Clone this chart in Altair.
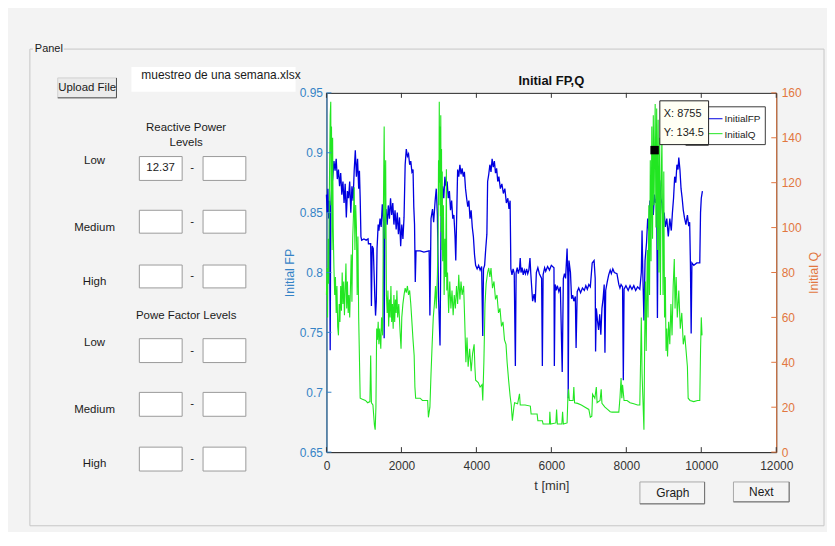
import altair as alt
import pandas as pd

# ---------------- data ----------------
# Initial FP (left axis), pairs of (t [min], FP)
fp_points = [
    (0, 0.865), (20, 0.850), (40, 0.870), (60, 0.845), (80, 0.860), (100, 0.735), (115, 0.855),
    (140, 0.870), (170, 0.880), (200, 0.893), (230, 0.885), (260, 0.895), (290, 0.878), (320, 0.886),
    (350, 0.872), (380, 0.883), (410, 0.865), (440, 0.876), (470, 0.858), (500, 0.874), (530, 0.846),
    (560, 0.868), (590, 0.862), (620, 0.876), (650, 0.850), (680, 0.872), (710, 0.860), (740, 0.885),
    (770, 0.902), (800, 0.880), (830, 0.895), (860, 0.870), (880, 0.885), (900, 0.862), (920, 0.830),
    (940, 0.827), (1000, 0.828), (1060, 0.827), (1110, 0.828), (1120, 0.824), (1180, 0.824),
    (1200, 0.772), (1220, 0.822), (1250, 0.820), (1270, 0.800), (1290, 0.780), (1310, 0.764),
    (1330, 0.776), (1350, 0.820), (1380, 0.840), (1400, 0.835), (1430, 0.845), (1460, 0.838),
    (1490, 0.857), (1520, 0.842), (1540, 0.745), (1560, 0.845), (1590, 0.853), (1620, 0.840),
    (1650, 0.856), (1680, 0.845), (1710, 0.862), (1740, 0.848), (1770, 0.858), (1800, 0.840),
    (1830, 0.852), (1860, 0.836), (1890, 0.850), (1920, 0.832), (1950, 0.846), (1980, 0.822),
    (2010, 0.840), (2040, 0.828), (2070, 0.846), (2100, 0.890), (2130, 0.903), (2160, 0.897),
    (2190, 0.899), (2220, 0.890), (2250, 0.893), (2280, 0.884), (2310, 0.886), (2330, 0.855),
    (2350, 0.840), (2370, 0.792), (2390, 0.818), (2500, 0.818), (2600, 0.817), (2740, 0.818),
    (2760, 0.764), (2790, 0.845), (2830, 0.853), (2860, 0.842), (2900, 0.860), (2930, 0.870),
    (2960, 0.848), (2990, 0.780), (3030, 0.739), (3060, 0.850), (3100, 0.872), (3130, 0.862),
    (3160, 0.880), (3190, 0.872), (3220, 0.876), (3250, 0.862), (3280, 0.868), (3310, 0.852),
    (3340, 0.860), (3370, 0.845), (3400, 0.848), (3430, 0.830), (3450, 0.810), (3470, 0.840),
    (3500, 0.886), (3530, 0.880), (3560, 0.890), (3590, 0.882), (3620, 0.887), (3650, 0.880),
    (3680, 0.884), (3710, 0.870), (3740, 0.862), (3770, 0.855), (3800, 0.860), (3830, 0.845),
    (3860, 0.852), (3890, 0.838), (3920, 0.830), (3950, 0.815), (3980, 0.806), (4020, 0.803),
    (4060, 0.806), (4100, 0.802), (4140, 0.805), (4170, 0.747), (4190, 0.803), (4220, 0.806),
    (4250, 0.820), (4280, 0.832), (4300, 0.876), (4330, 0.882), (4360, 0.890), (4390, 0.884),
    (4420, 0.895), (4450, 0.888), (4480, 0.893), (4510, 0.883), (4540, 0.887), (4570, 0.876),
    (4600, 0.880), (4640, 0.870), (4680, 0.874), (4720, 0.866), (4760, 0.870), (4800, 0.858),
    (4840, 0.862), (4870, 0.853), (4900, 0.860), (4920, 0.803), (4950, 0.798), (4980, 0.803),
    (5010, 0.799), (5040, 0.722), (5060, 0.800), (5090, 0.804), (5120, 0.799), (5150, 0.803),
    (5170, 0.812), (5190, 0.800), (5220, 0.804), (5250, 0.798), (5280, 0.802), (5310, 0.799),
    (5340, 0.803), (5370, 0.799), (5400, 0.802), (5430, 0.812), (5450, 0.800), (5500, 0.776),
    (5540, 0.782), (5570, 0.775), (5600, 0.800), (5640, 0.804), (5680, 0.799), (5740, 0.795),
    (5760, 0.722), (5780, 0.798), (5820, 0.804), (5850, 0.801), (5900, 0.805), (5950, 0.802),
    (6000, 0.806), (6070, 0.804), (6080, 0.722), (6100, 0.790), (6130, 0.785), (6160, 0.789),
    (6200, 0.784), (6240, 0.788), (6290, 0.717), (6320, 0.795), (6350, 0.799), (6380, 0.795),
    (6420, 0.820), (6440, 0.797), (6450, 0.695), (6470, 0.810), (6510, 0.800), (6540, 0.778),
    (6570, 0.781), (6600, 0.776), (6640, 0.780), (6660, 0.737), (6690, 0.784), (6730, 0.787),
    (6780, 0.783), (6830, 0.787), (6880, 0.785), (6920, 0.789), (6960, 0.786), (7000, 0.790),
    (7040, 0.788), (7090, 0.808), (7140, 0.810), (7170, 0.795), (7180, 0.734), (7200, 0.770),
    (7230, 0.760), (7260, 0.752), (7290, 0.765), (7320, 0.748), (7350, 0.770), (7380, 0.778),
    (7410, 0.790), (7430, 0.733), (7450, 0.785), (7490, 0.792), (7530, 0.798), (7570, 0.802),
    (7600, 0.799), (7640, 0.803), (7680, 0.800), (7750, 0.799), (7800, 0.790), (7830, 0.787),
    (7860, 0.790), (7900, 0.788), (7920, 0.710), (7940, 0.786), (7990, 0.789), (8050, 0.785),
    (8100, 0.789), (8150, 0.786), (8200, 0.789), (8250, 0.785), (8300, 0.788), (8360, 0.786),
    (8400, 0.800), (8420, 0.835), (8440, 0.800), (8470, 0.760), (8500, 0.810), (8540, 0.825),
    (8570, 0.845), (8600, 0.835), (8630, 0.860), (8660, 0.852), (8690, 0.870), (8720, 0.848),
    (8750, 0.865), (8780, 0.858), (8810, 0.862), (8830, 0.762), (8850, 0.848), (8870, 0.872),
    (8890, 0.877), (8920, 0.862), (8950, 0.858), (8980, 0.843), (9010, 0.850), (9040, 0.838),
    (9080, 0.845), (9120, 0.830), (9160, 0.845), (9200, 0.835), (9230, 0.850), (9260, 0.862),
    (9290, 0.880), (9320, 0.875), (9350, 0.890), (9380, 0.886), (9400, 0.896), (9430, 0.886),
    (9460, 0.870), (9490, 0.862), (9520, 0.852), (9550, 0.846), (9590, 0.840), (9630, 0.848),
    (9660, 0.840), (9690, 0.842), (9710, 0.808), (9730, 0.749), (9750, 0.808), (9800, 0.806),
    (9880, 0.808), (9960, 0.808), (9980, 0.850), (10000, 0.862), (10030, 0.868),
]

# Initial Q (right axis), pairs of (t [min], Q)
q_points = [
    (0, 70), (15, 82), (30, 60), (45, 95), (60, 75), (80, 120), (100, 150), (115, 156), (125, 110),
    (135, 145), (150, 90), (165, 140), (180, 100), (200, 82), (220, 70), (240, 78), (260, 62),
    (280, 74), (300, 56), (320, 52), (340, 66), (360, 58), (380, 74), (400, 63), (420, 80),
    (440, 66), (460, 76), (480, 61), (500, 72), (520, 84), (540, 64), (560, 76), (580, 62),
    (600, 70), (620, 60), (640, 73), (660, 88), (680, 67), (700, 95), (720, 105), (740, 118),
    (760, 90), (780, 110), (800, 100), (820, 70), (840, 96), (860, 60), (880, 42), (900, 24),
    (960, 23.5), (1040, 23), (1100, 22), (1160, 22.5), (1180, 43), (1200, 22), (1240, 21),
    (1280, 12), (1300, 10), (1320, 20), (1340, 55), (1360, 50), (1380, 58), (1400, 48),
    (1420, 55), (1450, 46), (1470, 60), (1500, 52), (1520, 110), (1540, 145), (1560, 95),
    (1580, 130), (1600, 70), (1620, 62), (1640, 72), (1660, 56), (1680, 68), (1700, 60),
    (1720, 74), (1740, 58), (1760, 66), (1780, 55), (1800, 70), (1820, 58), (1840, 68),
    (1860, 62), (1880, 72), (1900, 60), (1930, 66), (1960, 55), (1990, 46), (2010, 60),
    (2040, 66), (2070, 70), (2100, 73), (2130, 71), (2160, 74), (2190, 70), (2220, 72),
    (2250, 66), (2280, 58), (2310, 50), (2340, 43), (2360, 29), (2380, 24), (2500, 24),
    (2560, 23), (2700, 23), (2720, 15.5), (2760, 20), (2790, 35), (2820, 48), (2850, 60),
    (2880, 66), (2910, 74), (2930, 64), (2960, 79), (2980, 100), (2990, 130), (3000, 110),
    (3010, 156), (3020, 120), (3030, 145), (3040, 105), (3050, 150), (3060, 98), (3070, 135),
    (3080, 90), (3090, 125), (3100, 85), (3120, 110), (3140, 70), (3160, 95), (3180, 78),
    (3200, 126), (3210, 72), (3230, 80), (3260, 62), (3290, 76), (3320, 64), (3350, 72),
    (3380, 61), (3410, 70), (3440, 64), (3470, 74), (3500, 66), (3530, 79), (3560, 68),
    (3590, 76), (3620, 70), (3660, 74), (3690, 58), (3720, 40), (3750, 51), (3780, 38),
    (3820, 46), (3860, 36), (3900, 44), (3940, 48), (3960, 38), (3980, 32), (4050, 31),
    (4100, 29), (4150, 30), (4170, 23), (4200, 40), (4230, 66), (4260, 75), (4300, 80),
    (4330, 82), (4360, 78), (4390, 82), (4430, 73), (4470, 76), (4510, 68), (4550, 70),
    (4590, 62), (4630, 64), (4670, 56), (4710, 58), (4750, 50), (4790, 48), (4820, 40),
    (4860, 32), (4900, 25), (4930, 21), (4960, 14), (5000, 20), (5020, 22), (5100, 21.5),
    (5150, 26), (5170, 21), (5300, 21), (5440, 20.5), (5460, 17), (5620, 17), (5640, 14),
    (5760, 14), (5780, 12.5), (5950, 12.5), (5960, 18), (5980, 12.5), (6120, 13), (6140, 19),
    (6160, 12.5), (6280, 12.5), (6300, 18), (6320, 12.5), (6420, 13), (6440, 24), (6460, 28),
    (6480, 23), (6580, 23), (6600, 29), (6620, 22), (6700, 21.7), (6800, 21), (6900, 20),
    (7000, 19), (7040, 15.5), (7080, 16), (7100, 25.8), (7160, 24), (7200, 29), (7220, 22),
    (7300, 23), (7330, 28), (7350, 21.7), (7430, 20), (7500, 19), (7570, 18), (7620, 17.8),
    (7800, 17.8), (7830, 24), (7860, 33), (7880, 24), (7900, 30), (7940, 23), (8020, 23),
    (8100, 22), (8200, 21.5), (8300, 21), (8360, 21), (8380, 40), (8400, 60), (8420, 35),
    (8450, 20), (8470, 10), (8490, 50), (8510, 76), (8530, 45), (8560, 90), (8580, 60),
    (8600, 110), (8620, 70), (8640, 130), (8660, 85), (8680, 145), (8700, 95), (8720, 150),
    (8740, 110), (8755, 134.5), (8770, 155), (8790, 100), (8810, 153), (8830, 90), (8850, 148),
    (8870, 80), (8890, 140), (8910, 70), (8930, 120), (8950, 140), (8980, 70), (9000, 125),
    (9020, 60), (9040, 78), (9060, 45), (9080, 55), (9100, 42.6), (9130, 58), (9160, 48),
    (9190, 66), (9220, 52), (9250, 74), (9280, 86), (9300, 64), (9330, 78), (9360, 60),
    (9400, 72), (9440, 55), (9480, 62), (9520, 48), (9560, 52), (9600, 44), (9630, 38),
    (9650, 24), (9700, 23), (9800, 22.5), (9900, 23), (9960, 23), (9980, 45), (10000, 60),
    (10020, 52),
]

x_ticks = [0, 2000, 4000, 6000, 8000, 10000, 12000]
fp_ticks = [0.65, 0.7, 0.75, 0.8, 0.85, 0.9, 0.95]
q_ticks = [0, 20, 40, 60, 80, 100, 120, 140, 160]
series_names = ["InitialFP", "InitialQ"]
tip_t = [8755]
tip_q = [134.5]

# ---------------- styling / layout ----------------
W, H = 452, 361          # plot area
OX, OY = 328, 92         # page position of the plot origin (8px margin + padding)
BG = "#f3f3f3"
FONT = "Liberation Sans, Arial, Helvetica, sans-serif"
FP_COLOR = "#0000e0"
Q_COLOR = "#22e622"
LEFT = "#3583c6"
RIGHT = "#e2773f"
DARK = "#333333"

fp_df = pd.DataFrame(fp_points, columns=["t", "fp"])
fp_df["i"] = range(len(fp_df))
q_df = pd.DataFrame(q_points, columns=["t", "q"])
q_df["i"] = range(len(q_df))
xt_df = pd.DataFrame({"t": x_ticks})
fpt_df = pd.DataFrame({"fp": fp_ticks})
qt_df = pd.DataFrame({"q": q_ticks})
tip_df = pd.DataFrame({"t": tip_t, "q": tip_q})
one = pd.DataFrame({"k": [0]})

xscale = alt.Scale(domain=[0, 12000], nice=False, zero=False)
fpscale = alt.Scale(domain=[0.65, 0.95], nice=False, zero=False)
qscale = alt.Scale(domain=[0, 160], nice=False, zero=False)

X_AXIS = alt.Axis(
    orient="bottom", values=x_ticks, format="d", title="t [min]",
    labelPadding=8, titlePadding=9, labelFlush=False,
    domainColor=DARK, labelColor=DARK, titleColor=DARK,
)


def X():
    return alt.X("t:Q", scale=xscale, axis=X_AXIS)


def txt(s, x, y, size=11.5, align="center", weight="normal", color="#1a1a1a"):
    return alt.Chart(one).mark_text(
        text=s, fontSize=size, align=align, baseline="middle",
        fontWeight=weight, color=color, font=FONT,
    ).encode(x=alt.value(x - OX), y=alt.value(y - OY))


def box(x1, y1, x2, y2, fill, stroke=None, sw=1, fill_opacity=1):
    kw = dict(fill=fill, fillOpacity=fill_opacity)
    if stroke is not None:
        kw.update(stroke=stroke, strokeWidth=sw)
    return alt.Chart(one).mark_rect(**kw).encode(
        x=alt.value(x1 - OX), x2=alt.value(x2 - OX),
        y=alt.value(y1 - OY), y2=alt.value(y2 - OY),
    )


def line(x1, y1, x2, y2, color, sw=1):
    return alt.Chart(one).mark_rule(color=color, strokeWidth=sw).encode(
        x=alt.value(x1 - OX), x2=alt.value(x2 - OX),
        y=alt.value(y1 - OY), y2=alt.value(y2 - OY),
    )


layers = []

# --- GUI panel (decoration) ---
layers += [
    box(30, 48, 828, 527, BG, stroke="#c6c6c6", fill_opacity=0),
    box(33, 42, 64, 55, BG),
    txt("Panel", 35, 48, size=11, align="left"),
    box(58, 77, 117, 97, "#ebebeb", stroke="#cfcfcf"),
    line(58, 97, 117, 97, "#505050"),
    line(117, 77, 117, 97, "#505050"),
    txt("Upload File", 87.5, 87, size=11.5),
    box(132, 66, 297, 91, "#ffffff"),
    txt("muestreo de una semana.xlsx", 142, 74, size=12, align="left"),
    txt("Reactive Power", 187, 127),
    txt("Levels", 187, 142),
    txt("Powe Factor Levels", 187, 316),
]
rows = [("Low", 160, 156, 180), ("Medium", 228, 210, 233), ("High", 282, 265, 288),
        ("Low", 343, 339, 363), ("Medium", 411, 393, 417), ("High", 465, 448, 472)]
for name, ly, by1, by2 in rows:
    layers += [
        txt(name, 95, ly),
        box(140, by1, 183, by2, "#ffffff", stroke="#9a9a9a"),
        box(204, by1, 247, by2, "#ffffff", stroke="#9a9a9a"),
        txt("-", 193, (by1 + by2) / 2),
    ]
layers += [
    txt("12.37", 147, 168, align="left"),
    box(643, 483, 708, 505, "#f4f4f4", stroke="#a8a8a8"),
    line(643, 505, 708, 505, "#707070"),
    line(708, 483, 708, 505, "#707070"),
    txt("Graph", 676, 494, size=12),
    box(737, 483, 793, 503, "#f4f4f4", stroke="#a8a8a8"),
    line(737, 503, 793, 503, "#707070"),
    line(793, 483, 793, 503, "#707070"),
    txt("Next", 765, 493, size=12),
]

# --- the plot ---
blue = alt.Chart(fp_df).mark_line(color=FP_COLOR, strokeWidth=1.3).encode(
    x=X(),
    y=alt.Y("fp:Q", scale=fpscale, axis=alt.Axis(
        orient="left", values=fp_ticks, format="~g", title="Initial FP",
        labelPadding=4, titlePadding=3, titleFontSize=12.5,
        domainColor=LEFT, labelColor=LEFT, titleColor=LEFT)),
    order=alt.Order("i:Q"),
)
green = alt.Chart(q_df).mark_line(color=Q_COLOR, strokeWidth=1.1).encode(
    x=X(),
    y=alt.Y("q:Q", scale=qscale, axis=alt.Axis(
        orient="right", values=q_ticks, format="d", title="Initial Q",
        labelPadding=5, titlePadding=6, titleAngle=270, titleBaseline="top",
        titleFontSize=12.5,
        domainColor=RIGHT, labelColor=RIGHT, titleColor=RIGHT)),
    order=alt.Order("i:Q"),
)
layers += [blue, green]

# inward tick marks (MATLAB style)
layers += [
    alt.Chart(xt_df).mark_rule(color=DARK).encode(
        x=X(), y=alt.value(H - 5), y2=alt.value(H)),
    alt.Chart(xt_df).mark_rule(color=DARK).encode(
        x=X(), y=alt.value(0), y2=alt.value(5)),
    alt.Chart(fpt_df).mark_rule(color=LEFT).encode(
        y=alt.Y("fp:Q", scale=fpscale, axis=None), x=alt.value(0), x2=alt.value(5)),
    alt.Chart(qt_df).mark_rule(color=RIGHT).encode(
        y=alt.Y("q:Q", scale=qscale, axis=None), x=alt.value(W - 5), x2=alt.value(W)),
]

# title
layers.append(txt("Initial FP,Q", OX + W / 2, 80, size=13, weight="bold", color="#111111"))

# legend
layers += [
    box(688, 106, 769, 144, "#ffffff", stroke="#3a3a3a"),
    line(698, 118, 726, 118, FP_COLOR),
    line(698, 133, 726, 133, Q_COLOR),
    txt(series_names[0], 728, 118, size=10, align="left"),
    txt(series_names[1], 728, 134, size=10, align="left"),
]

# data tip
layers += [
    box(689, 140, 712, 145, "#111111"),
    box(663, 100, 712, 144, "#fffff4", stroke="#222222"),
    txt("X: " + str(tip_t[0]), 667, 113, size=11, align="left"),
    txt("Y: " + str(tip_q[0]), 667, 132, size=11, align="left"),
    alt.Chart(tip_df).mark_square(size=72, color="black", filled=True, opacity=1).encode(
        x=X(),
        y=alt.Y("q:Q", scale=qscale, axis=None)),
]

chart = (
    alt.layer(*layers)
    .resolve_scale(y="independent")
    .properties(
        width=W, height=H,
        autosize=alt.AutoSizeParams(type="none"),
        padding={"left": OX - 8, "top": OY - 8, "right": 51, "bottom": 79},
        background=BG,
    )
    .configure(font=FONT)
    .configure_view(stroke="#262626", strokeWidth=1, fill="white")
    .configure_axis(
        grid=False, ticks=False, labelFont=FONT, titleFont=FONT,
        labelFontSize=12, titleFontSize=13, titleFontWeight="normal",
    )
)

chart.save("out.html", embed_options={"renderer": "svg", "actions": False})
